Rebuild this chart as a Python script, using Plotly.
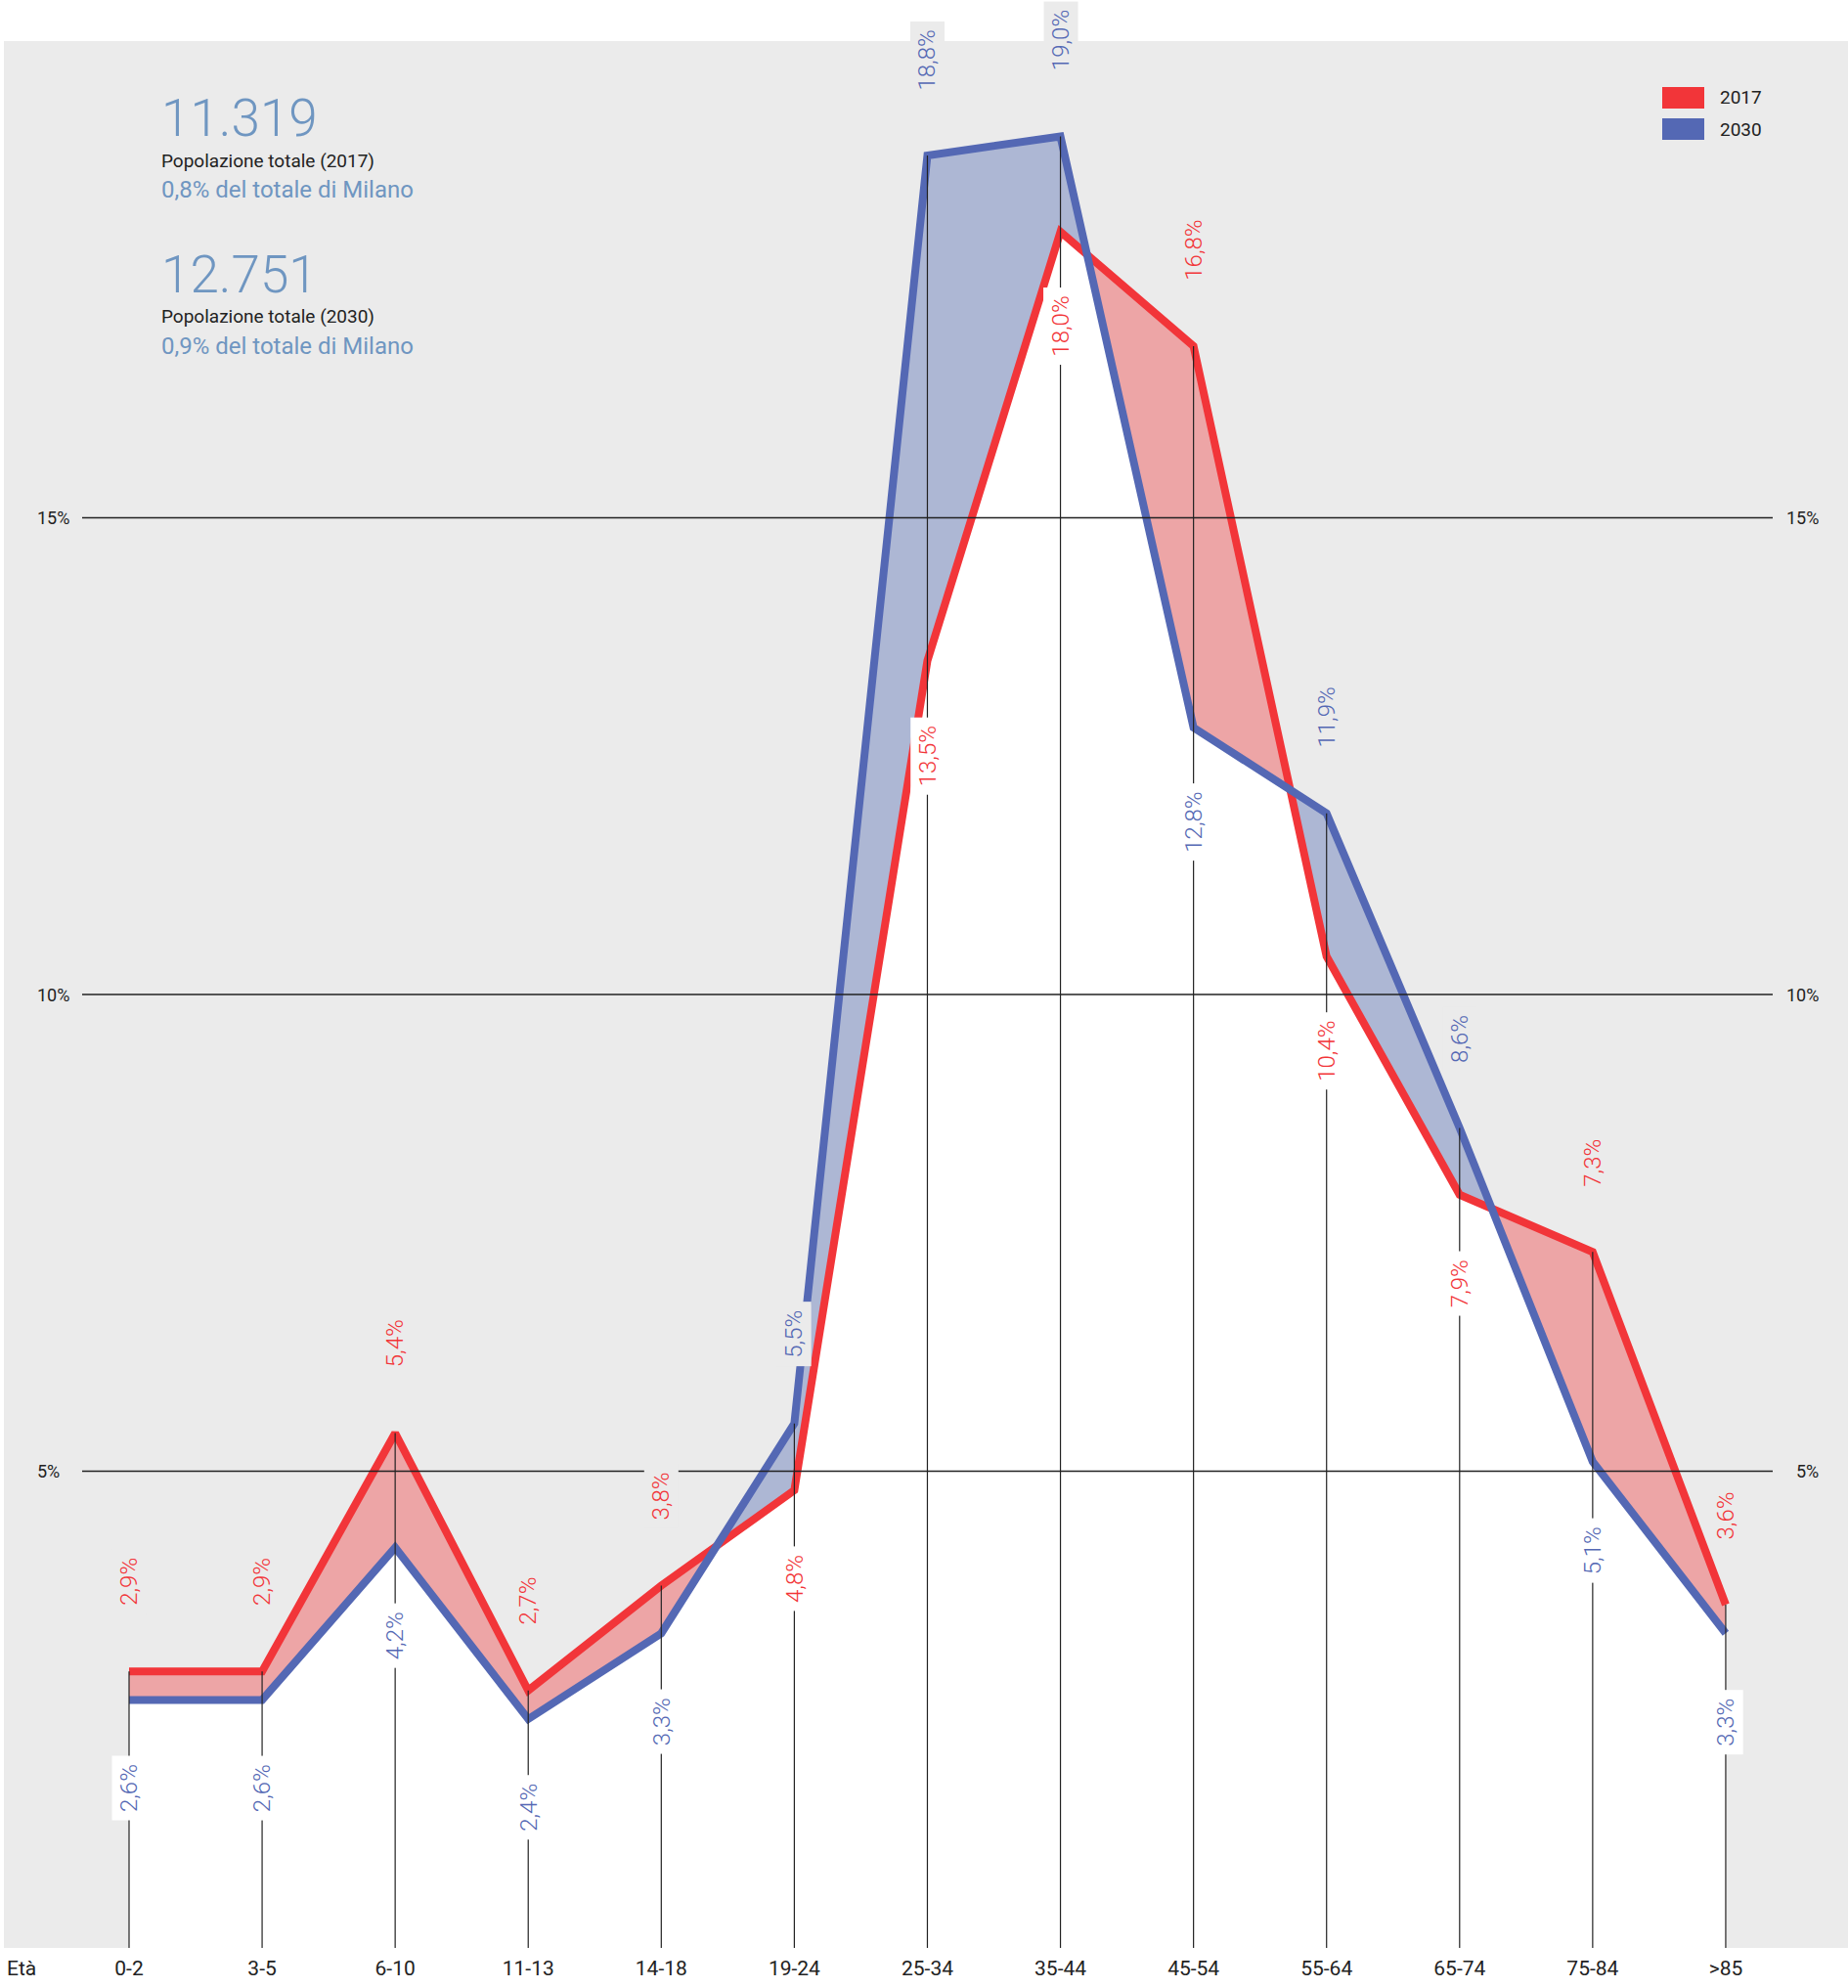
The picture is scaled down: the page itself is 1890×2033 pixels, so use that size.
import numpy as np
import plotly.graph_objects as go

# Age bands and population share (%) per band
categories = ["0-2", "3-5", "6-10", "11-13", "14-18", "19-24", "25-34",
              "35-44", "45-54", "55-64", "65-74", "75-84", ">85"]
share_2017 = [2.9, 2.9, 5.4, 2.7, 3.8, 4.8, 13.5, 18.0, 16.8, 10.4, 7.9, 7.3, 3.6]
share_2030 = [2.6, 2.6, 4.2, 2.4, 3.3, 5.5, 18.8, 19.0, 12.8, 11.9, 8.6, 5.1, 3.3]
grid_values = [5, 10, 15]
series_names = ["2017", "2030"]

totals = [("11.319", "Popolazione totale (2017)", "0,8% del totale di Milano"),
          ("12.751", "Popolazione totale (2030)", "0,9% del totale di Milano")]

RED = "#F23539"
BLUE = "#5468B4"
RED_FILL = "#EDA5A6"
BLUE_FILL = "#ADB7D4"
PANEL = "#EBEBEB"
INK = "#222222"
STEEL = "#6F96C1"
FONT = "Roboto"
PAD = "\u2009"

W, H = 1890, 2033
M_L, M_R, M_T, M_B = 4, 0, 42, 41
X_RANGE = [-0.9406, 12.919]
Y_RANGE = [0, 20]

x = np.arange(len(categories), dtype=float)
r = np.array(share_2017)
b = np.array(share_2030)


def lower_envelope(xs, y1, y2):
    """Pointwise minimum of two polylines, with their crossing points added."""
    ex, ey = [xs[0]], [min(y1[0], y2[0])]
    for i in range(len(xs) - 1):
        d0 = y1[i] - y2[i]
        d1 = y1[i + 1] - y2[i + 1]
        if d0 * d1 < 0:
            t = d0 / (d0 - d1)
            ex.append(xs[i] + t * (xs[i + 1] - xs[i]))
            ey.append(y1[i] + t * (y1[i + 1] - y1[i]))
        ex.append(xs[i + 1])
        ey.append(min(y1[i + 1], y2[i + 1]))
    return ex, ey


env_x, env_y = lower_envelope(x, r, b)

fig = go.Figure()

# Bands between the two curves: colour of whichever series is higher
fig.add_trace(go.Scatter(x=x, y=b, mode="none", fill="tozeroy",
                         fillcolor=BLUE_FILL, hoverinfo="skip"))
fig.add_trace(go.Scatter(x=x, y=r, mode="none", fill="tozeroy",
                         fillcolor=RED_FILL, hoverinfo="skip"))
# White area under both curves
fig.add_trace(go.Scatter(x=env_x, y=env_y, mode="none", fill="tozeroy",
                         fillcolor="#FFFFFF", hoverinfo="skip"))

# Series outlines
fig.add_trace(go.Scatter(x=x, y=r, mode="lines", name=series_names[0],
                         line=dict(color=RED, width=8), hoverinfo="skip"))
fig.add_trace(go.Scatter(x=x, y=b, mode="lines", name=series_names[1],
                         line=dict(color=BLUE, width=8), hoverinfo="skip"))

# Drop lines from the higher value of each band down to zero
drop_x, drop_y = [], []
for xi, hi in zip(x, np.maximum(r, b)):
    drop_x += [xi, xi, None]
    drop_y += [hi, 0, None]
fig.add_trace(go.Scatter(x=drop_x, y=drop_y, mode="lines",
                         line=dict(color=INK, width=1.2), hoverinfo="skip"))


def px_x(p):
    return (p - M_L) / (W - M_L - M_R)


def px_y(p):
    return 1 - (p - M_T) / (H - M_T - M_B)


shapes = []
annotations = []

# Horizontal reference lines with their labels on both sides
for g in grid_values:
    shapes.append(dict(type="line", xref="paper", yref="y",
                       x0=px_x(84), x1=px_x(1813), y0=g, y1=g,
                       line=dict(color=INK, width=1.3), layer="above"))
    annotations.append(dict(xref="paper", yref="y", x=px_x(36), y=g,
                            text=f"{g}%", showarrow=False, xanchor="left",
                            yanchor="middle", font=dict(family=FONT, size=18, color=INK)))
    annotations.append(dict(xref="paper", yref="y", x=px_x(1862), y=g,
                            text=f"{g}%", showarrow=False, xanchor="right",
                            yanchor="middle", font=dict(family=FONT, size=18, color=INK)))


def fmt(v):
    return PAD + f"{v:.1f}".replace(".", ",") + "%" + PAD


# Value labels: higher series above its point, lower series below
for i in range(len(categories)):
    pts = [(r[i], RED), (b[i], BLUE)]
    pts.sort(key=lambda p: p[0], reverse=True)
    (hv, hc), (lv, lc) = pts
    annotations.append(dict(x=x[i], y=hv, xref="x", yref="y", text=fmt(hv),
                            textangle=-90, showarrow=False, yanchor="bottom",
                            xanchor="center", yshift=58, bgcolor=PANEL, borderpad=3,
                            font=dict(family=FONT, size=24, color=hc, weight=300)))
    annotations.append(dict(x=x[i], y=lv, xref="x", yref="y", text=fmt(lv),
                            textangle=-90, showarrow=False, yanchor="top",
                            xanchor="center", yshift=-57, bgcolor="#FFFFFF", borderpad=3,
                            font=dict(family=FONT, size=24, color=lc, weight=300)))

# Summary block in the upper left
block_rows = [(121, 53, 300), (164, 19, 400), (194, 24, 400)]
for k, (big, sub, share) in enumerate(totals):
    dy = k * 160
    for (yc, size, weight), txt, col in zip(block_rows, (big, sub, share),
                                            (STEEL, INK, STEEL)):
        annotations.append(dict(xref="paper", yref="paper", x=px_x(163), y=px_y(yc + dy),
                                text=txt, showarrow=False, xanchor="left", yanchor="middle",
                                font=dict(family=FONT, size=size, color=col, weight=weight)))

# Legend swatches
for k, (name, col) in enumerate(zip(series_names, [RED, BLUE])):
    y0 = 89 + k * 32
    shapes.append(dict(type="rect", xref="paper", yref="paper",
                       x0=px_x(1700), x1=px_x(1743), y0=px_y(y0 + 22), y1=px_y(y0),
                       fillcolor=col, line=dict(width=0)))
    annotations.append(dict(xref="paper", yref="paper", x=px_x(1757), y=px_y(y0 + 11),
                            text=name, showarrow=False, xanchor="left", yanchor="middle",
                            font=dict(family=FONT, size=19, color=INK)))

# Axis caption
annotations.append(dict(xref="paper", yref="paper", x=px_x(5), y=px_y(2013),
                        text="Età", showarrow=False, xanchor="left", yanchor="middle",
                        font=dict(family=FONT, size=21, color=INK)))

fig.update_layout(
    width=W, height=H,
    margin=dict(l=M_L, r=M_R, t=M_T, b=M_B, pad=0),
    paper_bgcolor="#FFFFFF", plot_bgcolor=PANEL,
    showlegend=False,
    shapes=shapes, annotations=annotations,
    xaxis=dict(range=X_RANGE, tickvals=list(x), ticktext=categories,
               showgrid=False, zeroline=False, showline=False, ticks="",
               ticklabelstandoff=6,
               tickfont=dict(family=FONT, size=21, color=INK), fixedrange=True),
    yaxis=dict(range=Y_RANGE, showgrid=False, zeroline=False, showline=False,
               showticklabels=False, fixedrange=True),
)

fig.write_html("out.html")
